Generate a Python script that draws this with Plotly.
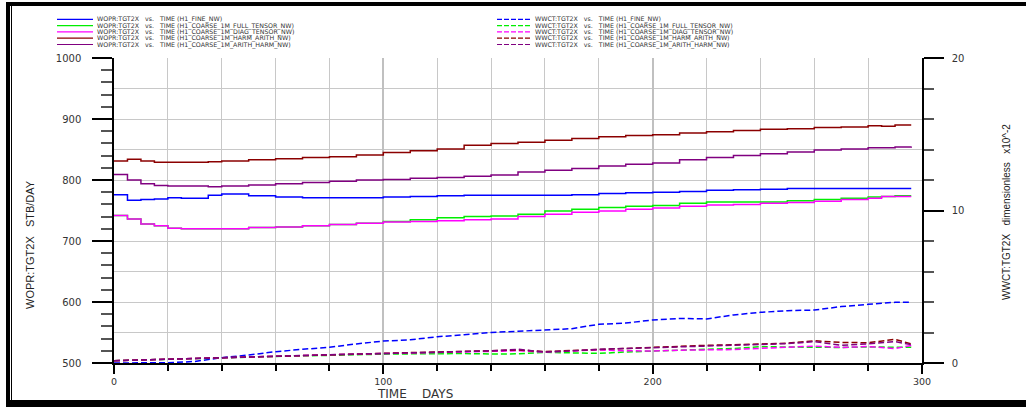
import plotly.graph_objects as go

# ---------------- data ----------------
days_wopr = [0, 5, 10, 15, 20, 25, 30, 35, 40, 50, 60, 70, 80, 90, 100, 110, 120, 130,
             140, 150, 160, 170, 180, 190, 200, 210, 220, 230, 240, 250, 260, 270, 280,
             285, 290, 296]

wopr_fine = [776, 767, 768, 769, 771, 770, 770, 775, 777, 774, 772, 771, 771, 771, 772, 773,
             774, 775, 775, 775, 775, 776, 778, 779, 780, 781, 783, 784, 785, 786, 786, 786,
             786, 786, 786, 786]
wopr_full = [742, 736, 728, 725, 721, 720, 720, 720, 720, 722, 723, 725, 727, 729, 732, 735,
             738, 740, 741, 744, 749, 752, 755, 757, 758, 762, 764, 764, 764, 766, 768, 770,
             772, 773, 774, 774]
wopr_diag = [742, 736, 728, 725, 721, 720, 720, 720, 720, 722, 723, 725, 727, 729, 731, 732,
             733, 735, 736, 740, 744, 747, 749, 752, 754, 757, 759, 760, 762, 763, 765, 768,
             770, 773, 773, 773]
wopr_harm_arith = [831, 834, 831, 829, 829, 829, 829, 830, 831, 833, 835, 837, 838, 841, 845,
                   848, 851, 857, 860, 862, 865, 868, 871, 873, 874, 877, 879, 881, 883, 884,
                   886, 887, 889, 888, 890, 890]
wopr_arith_harm = [809, 800, 794, 791, 790, 790, 790, 789, 790, 792, 794, 796, 798, 800, 801,
                   803, 804, 806, 808, 813, 816, 819, 823, 826, 828, 833, 837, 840, 843, 846,
                   849, 851, 853, 853, 854, 855]

days_wwct = [0, 10, 20, 30, 40, 50, 60, 70, 80, 90, 100, 110, 120, 130, 140, 150, 160, 170,
             180, 190, 200, 210, 220, 230, 240, 250, 260, 270, 280, 290, 296]

wwct_fine = [0.0, 0.0, 0.02, 0.1, 0.35, 0.52, 0.74, 0.9, 1.03, 1.25, 1.44, 1.52, 1.72, 1.85,
             2.0, 2.08, 2.16, 2.25, 2.54, 2.62, 2.82, 2.92, 2.89, 3.15, 3.32, 3.43, 3.47, 3.7,
             3.85, 3.98, 3.98]
wwct_full = [0.15, 0.2, 0.24, 0.3, 0.36, 0.4, 0.44, 0.47, 0.5, 0.55, 0.58, 0.6, 0.63, 0.62,
             0.59, 0.6, 0.7, 0.66, 0.63, 0.72, 0.79, 0.84, 0.9, 0.95, 1.07, 1.05, 1.03, 1.02,
             1.05, 1.02, 1.03]
wwct_diag = [0.15, 0.2, 0.25, 0.31, 0.37, 0.41, 0.45, 0.49, 0.53, 0.58, 0.62, 0.66, 0.7, 0.73,
             0.78, 0.8, 0.72, 0.78, 0.86, 0.8, 0.79, 0.84, 0.85, 0.88, 0.96, 1.02, 1.11, 1.02,
             1.08, 0.95, 1.15]
wwct_harm_arith = [0.15, 0.2, 0.25, 0.32, 0.38, 0.42, 0.46, 0.5, 0.55, 0.6, 0.63, 0.68, 0.72,
                   0.76, 0.82, 0.85, 0.75, 0.82, 0.92, 0.98, 1.03, 1.1, 1.16, 1.2, 1.25, 1.3,
                   1.46, 1.35, 1.33, 1.55, 1.25]
wwct_arith_harm = [0.15, 0.2, 0.25, 0.31, 0.37, 0.41, 0.45, 0.49, 0.54, 0.59, 0.62, 0.67,
                   0.71, 0.75, 0.8, 0.9, 0.72, 0.8, 0.9, 0.95, 1.0, 1.06, 1.12, 1.16, 1.2,
                   1.27, 1.4, 1.16, 1.25, 1.4, 1.2]

cases = ["H1_FINE_NW", "H1_COARSE_1M_FULL_TENSOR_NW", "H1_COARSE_1M_DIAG_TENSOR_NW",
         "H1_COARSE_1M_HARM_ARITH_NW", "H1_COARSE_1M_ARITH_HARM_NW"]
colors = ["#0000ff", "#00ee00", "#ff00ff", "#8b0000", "#800080"]
wopr_series = [wopr_fine, wopr_full, wopr_diag, wopr_harm_arith, wopr_arith_harm]
wwct_series = [wwct_fine, wwct_full, wwct_diag, wwct_harm_arith, wwct_arith_harm]

x_title = "TIME    DAYS"
y_title = "WOPR:TGT2X   STB/DAY"
y2_title = "WWCT:TGT2X   dimensionless   x10^-2"

# ---------------- layout geometry ----------------
W, H = 1026, 407
L, R, T, B = 114, 922, 58, 363


def px(xp):
    return (xp - L) / (R - L)


def py(yp):
    return (B - yp) / (B - T)


fig = go.Figure()

for name, col, vals in zip(cases, colors, wopr_series):
    fig.add_trace(go.Scatter(x=days_wopr, y=vals, mode="lines", line_shape="hv",
                             line=dict(color=col, width=1.5),
                             name="WOPR:TGT2X vs. TIME (" + name + ")", yaxis="y"))
for name, col, vals in zip(cases, colors, wwct_series):
    fig.add_trace(go.Scatter(x=days_wwct, y=vals, mode="lines",
                             line=dict(color=col, width=1.5, dash="6px,3px"),
                             name="WWCT:TGT2X vs. TIME (" + name + ")", yaxis="y2"))

tickfont = dict(family="DejaVu Sans", size=10, color="#333333")
xtickfont = dict(family="DejaVu Sans", size=9.5, color="#333333")
grid = "#c8c8c8"

fig.update_layout(
    width=W, height=H,
    margin=dict(l=L, r=W - R, t=T, b=H - B),
    paper_bgcolor="white", plot_bgcolor="white",
    showlegend=False,
    xaxis=dict(range=[0, 300], tickvals=[0, 100, 200, 300], ticks="outside", ticklen=9,
               tickwidth=1.5, tickcolor="black", showline=True, linecolor="black",
               linewidth=1.5, showgrid=True, gridcolor="#c0c0c0", gridwidth=2,
               zeroline=False, tickfont=xtickfont, ticklabelstandoff=0,
               minor=dict(dtick=20, ticks="outside", ticklen=6, tickcolor="black",
                          showgrid=True, gridcolor=grid, gridwidth=1)),
    yaxis=dict(range=[500, 1000], dtick=100, ticks="outside", ticklen=20, tickwidth=1.5,
               tickcolor="black", showline=True, linecolor="black", linewidth=1.5,
               showgrid=False, zeroline=False, tickfont=tickfont, ticklabelstandoff=9,
               minor=dict(dtick=20, ticks="outside", ticklen=11, tickcolor="#555555",
                          showgrid=False)),
    yaxis2=dict(range=[0, 20], dtick=10, overlaying="y", side="right", ticks="outside",
                ticklen=20, tickwidth=1.5, tickcolor="black", showline=True,
                linecolor="black", linewidth=1.5, showgrid=False, zeroline=False,
                tickfont=tickfont, ticklabelstandoff=6,
                minor=dict(dtick=2, ticks="outside", ticklen=10, tickcolor="#555555",
                           showgrid=True, gridcolor=grid, gridwidth=1)),
)

annotations = []
shapes = []

# axis titles
titlefont = dict(family="Liberation Sans Narrow, Liberation Sans", size=11, color="#222222")
annotations.append(dict(text=x_title, x=px(415), y=py(394), xref="paper", yref="paper",
                        xanchor="center", yanchor="middle", showarrow=False,
                        font=dict(family="DejaVu Sans", size=12, color="#333333")))
annotations.append(dict(text=y_title, x=px(30), y=py(245), xref="paper", yref="paper",
                        xanchor="center", yanchor="middle", showarrow=False,
                        textangle=-90, font=titlefont))
annotations.append(dict(text=y2_title, x=px(1007), y=py(212), xref="paper", yref="paper",
                        xanchor="center", yanchor="middle", showarrow=False,
                        textangle=-90,
                        font=dict(family="Liberation Sans Narrow, Liberation Sans",
                                  size=10, color="#222222")))

# legend (two columns of five rows)
legfont = dict(family="DejaVu Sans", size=6.3, color="#333333")
row_y = [19.3, 25.6, 31.9, 38.2, 44.5]
for i, (name, col) in enumerate(zip(cases, colors)):
    yy = py(row_y[i])
    shapes.append(dict(type="line", xref="paper", yref="paper", x0=px(57), x1=px(93),
                       y0=yy, y1=yy, line=dict(color=col, width=1.2)))
    annotations.append(dict(text="WOPR:TGT2X   vs.   TIME (" + name + ")", x=px(95), y=yy,
                            xref="paper", yref="paper", xanchor="left", yanchor="middle",
                            showarrow=False, font=legfont))
    shapes.append(dict(type="line", xref="paper", yref="paper", x0=px(497), x1=px(531),
                       y0=yy, y1=yy, line=dict(color=col, width=1.2, dash="5px,2px")))
    annotations.append(dict(text="WWCT:TGT2X   vs.   TIME (" + name + ")", x=px(533), y=yy,
                            xref="paper", yref="paper", xanchor="left", yanchor="middle",
                            showarrow=False, font=legfont))

# outer frame
frame = [
    (6, 2, W, 6),      # top band
    (6, 2, 10, H),     # left thick
    (11, 6, 12, 400),  # left thin
    (6, 400, W, H),    # bottom band
]
for x0, y0, x1, y1 in frame:
    shapes.append(dict(type="rect", xref="paper", yref="paper", x0=px(x0), x1=px(x1),
                       y0=py(y0), y1=py(y1), fillcolor="black", line=dict(width=0),
                       layer="above"))

fig.update_layout(annotations=annotations, shapes=shapes)
fig.write_html("out.html", config={"displayModeBar": False},
               post_script="document.body.style.margin='0';"
                           "document.body.style.overflow='hidden';")
